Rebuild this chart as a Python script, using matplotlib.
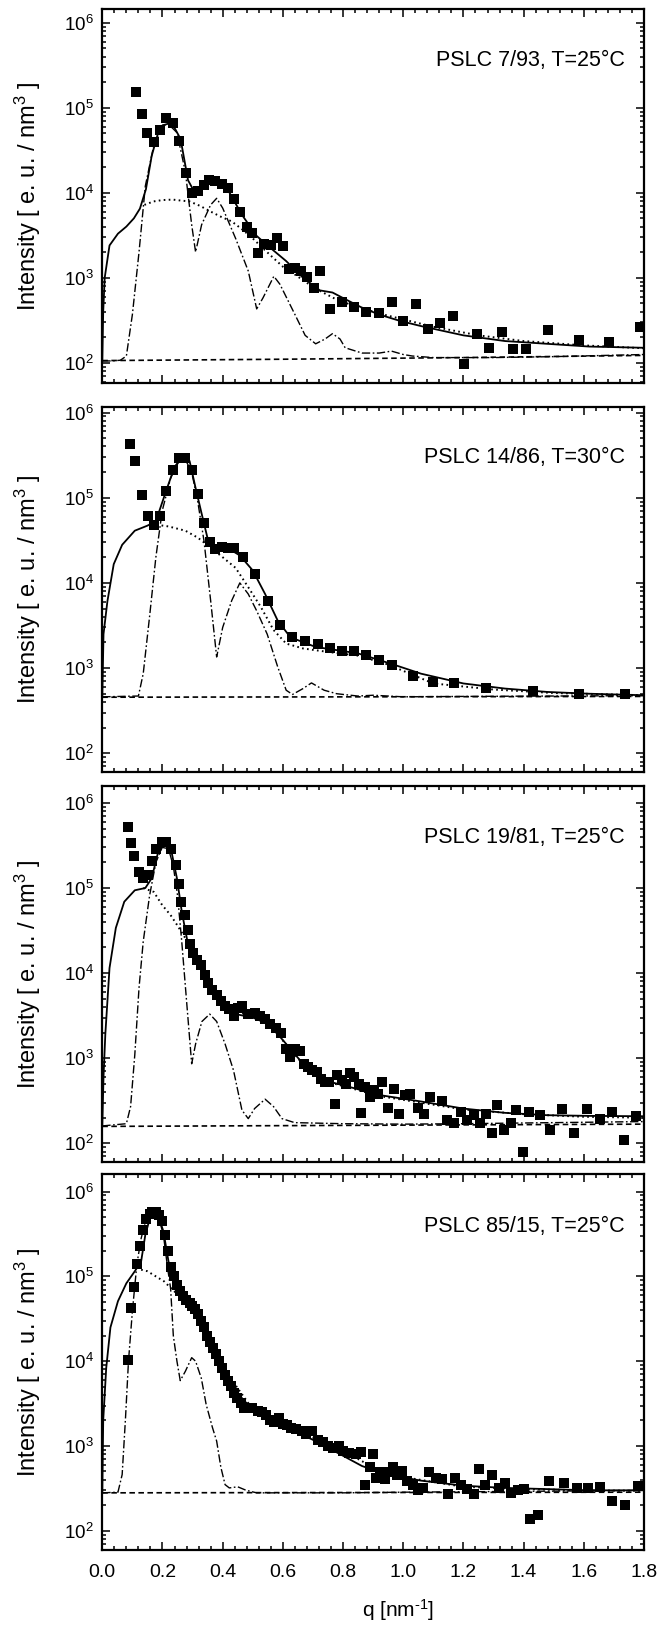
import numpy as np
import matplotlib
matplotlib.use('Agg')
import matplotlib.pyplot as plt
from matplotlib.ticker import MultipleLocator, LogLocator, NullFormatter, LogFormatterSciNotation

## donnees (q en nm^-1, intensite en e.u./nm^3)

labels = ['PSLC 7/93, T=25°C', 'PSLC 14/86, T=30°C', 'PSLC 19/81, T=25°C', 'PSLC 85/15, T=25°C']

# panneau 1
q1 = [0.112,0.133,0.150,0.173,0.192,0.213,0.234,0.256,0.277,0.297,0.317,0.337,0.355,0.376,0.397,0.417,0.439,0.459,0.481,0.499,
      0.519,0.538,0.559,0.580,0.600,0.620,0.641,0.660,0.681,0.702,0.723,0.758,0.796,0.838,0.877,0.919,0.961,0.999,1.041,1.083,
      1.122,1.164,1.203,1.245,1.285,1.327,1.366,1.408,1.482,1.583,1.684,1.786]
I1 = [1.55e5,8.5e4,5.0e4,4.0e4,5.5e4,7.5e4,6.7e4,4.1e4,1.7e4,1.0e4,1.05e4,1.23e4,1.4e4,1.37e4,1.27e4,1.14e4,8.4e3,6.0e3,3.9e3,3.4e3,
      1.95e3,2.5e3,2.45e3,2.97e3,2.34e3,1.28e3,1.3e3,1.2e3,1.02e3,7.6e2,1.2e3,4.3e2,5.2e2,4.5e2,4.0e2,3.8e2,5.2e2,3.1e2,4.9e2,2.5e2,
      2.97e2,3.5e2,97,2.2e2,1.5e2,2.28e2,1.46e2,1.46e2,2.4e2,1.87e2,1.74e2,2.6e2]
qs1 = [0, 0.003, 0.008, 0.024, 0.052, 0.08, 0.105, 0.125, 0.145, 0.164, 0.185, 0.2, 0.22, 0.24, 0.26, 0.285, 0.303, 0.325, 0.345,
       0.38, 0.42, 0.464, 0.513, 0.555, 0.611, 0.667, 0.723, 0.765, 0.807, 0.86, 0.919, 0.99, 1.059, 1.2, 1.338, 1.478, 1.618, 1.8]
Is1 = [105, 400, 1.0e3, 2.4e3, 3.3e3, 4.0e3, 5.0e3, 6.5e3, 1.1e4, 2.7e4, 5.0e4, 6.2e4, 6.5e4, 5.8e4, 4.3e4, 1.4e4, 1.07e4, 1.1e4,
       1.23e4, 1.34e4, 1.04e4, 5.5e3, 3.1e3, 2.3e3, 1.57e3, 1.0e3, 7.1e2, 6.7e2, 5.6e2, 4.5e2, 3.7e2, 3.1e2, 2.7e2, 2.1e2, 1.8e2,
       1.67e2, 1.55e2, 1.5e2]
qd1 = [0.14, 0.17, 0.2, 0.234, 0.26, 0.29, 0.325, 0.36, 0.395, 0.43, 0.465, 0.5, 0.535, 0.569, 0.6, 0.64, 0.68, 0.723, 0.78, 0.85,
       0.92, 0.99, 1.1, 1.25, 1.4, 1.6, 1.8]
Id1 = [7.2e3, 7.9e3, 8.2e3, 8.3e3, 8.1e3, 7.9e3, 7.0e3, 6.0e3, 5.2e3, 4.6e3, 3.7e3, 2.9e3, 2.2e3, 1.7e3, 1.35e3, 1.09e3, 8.7e2,
       7.0e2, 5.5e2, 4.5e2, 3.8e2, 3.3e2, 2.65e2, 2.1e2, 1.8e2, 1.6e2, 1.48e2]
qc1 = [0, 0.03, 0.06, 0.08, 0.1, 0.122, 0.143, 0.171, 0.2, 0.22, 0.248, 0.276, 0.297, 0.31, 0.33, 0.36, 0.38, 0.4, 0.443, 0.485,
       0.513, 0.534, 0.57, 0.59, 0.64, 0.674, 0.709, 0.74, 0.765, 0.79, 0.807, 0.863, 0.92, 0.961, 1.0, 1.03, 1.1, 1.3, 1.5, 1.8]
Ic1 = [105, 105, 107, 120, 370, 2.0e3, 1.2e4, 3.6e4, 6.2e4, 6.4e4, 5.1e4, 1.76e4, 4.2e3, 2.0e3, 4.2e3, 7.2e3, 8.6e3, 6.6e3, 2.9e3,
       1.2e3, 4.3e2, 5.8e2, 1.04e3, 8.4e2, 3.7e2, 2.1e2, 1.67e2, 1.9e2, 2.2e2, 1.9e2, 1.5e2, 1.3e2, 1.3e2, 1.37e2, 1.25e2, 1.2e2,
       1.15e2, 1.15e2, 1.18e2, 1.25e2]
qb1 = [0, 0.6, 1.2, 1.8]
Ib1 = [106, 110, 115, 122]

# panneau 2
q2 = [0.091,0.110,0.133,0.152,0.172,0.192,0.211,0.234,0.255,0.276,0.297,0.317,0.338,0.357,0.376,0.399,0.418,0.438,0.469,0.509,
      0.550,0.590,0.632,0.674,0.716,0.758,0.796,0.838,0.877,0.919,0.961,1.034,1.100,1.170,1.276,1.430,1.583,1.737]
I2 = [4.3e5,2.7e5,1.07e5,6.1e4,4.8e4,6.1e4,1.2e5,2.1e5,2.9e5,2.9e5,2.1e5,1.1e5,5.1e4,3.0e4,2.5e4,2.65e4,2.6e4,2.55e4,2.0e4,1.26e4,
      6.2e3,3.2e3,2.3e3,2.1e3,1.93e3,1.74e3,1.6e3,1.58e3,1.41e3,1.25e3,1.09e3,8.0e2,6.9e2,6.6e2,5.9e2,5.4e2,5.0e2,4.9e2]
qs2 = [0, 0.004, 0.017, 0.038, 0.066, 0.108, 0.15, 0.178, 0.212, 0.24, 0.269, 0.29, 0.31, 0.331, 0.352, 0.387, 0.422, 0.457, 0.5,
       0.541, 0.583, 0.625, 0.709, 0.849, 0.961, 1.059, 1.2, 1.338, 1.478, 1.618, 1.8]
Is2 = [460, 2.5e3, 6.1e3, 1.66e4, 2.8e4, 4.1e4, 4.7e4, 5.3e4, 1.2e5, 2.3e5, 3.1e5, 2.7e5, 1.3e5, 6.3e4, 3.1e4, 2.6e4, 2.5e4, 2.1e4,
       1.4e4, 7.4e3, 3.6e3, 2.3e3, 1.77e3, 1.49e3, 1.12e3, 8.6e2, 6.6e2, 5.75e2, 5.25e2, 5.0e2, 4.8e2]
qd2 = [0.164, 0.22, 0.276, 0.317, 0.36, 0.4, 0.443, 0.485, 0.527, 0.569, 0.611, 0.667, 0.72, 0.78, 0.85, 0.95, 1.1, 1.3, 1.5, 1.8]
Id2 = [4.9e4, 4.6e4, 4.1e4, 3.4e4, 2.6e4, 2.0e4, 1.5e4, 8.9e3, 5.2e3, 2.8e3, 1.94e3, 1.7e3, 1.6e3, 1.5e3, 1.4e3, 1.1e3, 6.6e2,
       5.6e2, 5.1e2, 4.8e2]
qc2 = [0, 0.12, 0.136, 0.157, 0.178, 0.199, 0.227, 0.255, 0.276, 0.297, 0.317, 0.338, 0.36, 0.38, 0.4, 0.43, 0.457, 0.485, 0.513,
       0.548, 0.583, 0.611, 0.632, 0.667, 0.695, 0.737, 0.779, 0.849, 0.9, 1.0, 1.2, 1.5, 1.8]
Ic2 = [460, 470, 860, 4.0e3, 2.0e4, 7.0e4, 1.7e5, 2.7e5, 2.8e5, 2.0e5, 9.1e4, 3.1e4, 6.2e3, 1.35e3, 3.0e3, 6.2e3, 1.0e4, 7.4e3,
       4.7e3, 2.5e3, 1.03e3, 5.5e2, 4.9e2, 5.75e2, 6.7e2, 5.5e2, 5.0e2, 4.7e2, 4.8e2, 4.6e2, 4.65e2, 4.7e2, 4.75e2]
qb2 = [0, 1.8]
Ib2 = [455, 465]

# panneau 3
q3 = [0.087,0.097,0.105,0.122,0.136,0.152,0.166,0.180,0.199,0.213,0.227,0.245,0.255,0.262,0.276,0.285,0.292,0.303,0.315,0.329,
      0.341,0.352,0.366,0.380,0.394,0.408,0.422,0.436,0.450,0.464,0.485,0.506,0.524,0.541,0.558,0.576,0.594,0.611,0.625,0.639,
      0.656,0.670,0.684,0.698,0.712,0.726,0.740,0.754,0.772,0.779,0.796,0.810,0.824,0.838,0.852,0.860,0.874,0.888,0.902,0.916,
      0.930,0.950,0.968,0.986,1.006,1.024,1.049,1.070,1.090,1.129,1.145,1.168,1.192,1.213,1.234,1.255,1.276,1.294,1.313,1.334,
      1.357,1.376,1.397,1.418,1.455,1.488,1.527,1.569,1.611,1.653,1.695,1.733,1.775]
I3 = [5.28e5,3.38e5,2.36e5,1.54e5,1.31e5,1.43e5,2.1e5,2.88e5,3.5e5,3.45e5,2.88e5,1.84e5,1.12e5,6.9e4,4.8e4,3.2e4,2.19e4,1.72e4,1.44e4,1.23e4,
      9.6e3,7.7e3,6.4e3,5.6e3,4.7e3,4.1e3,3.75e3,3.1e3,3.9e3,4.1e3,3.3e3,3.4e3,3.1e3,2.87e3,2.5e3,2.29e3,2.0e3,1.28e3,1.02e3,1.28e3,
      1.23e3,8.6e2,7.8e2,7.2e2,6.9e2,5.7e2,5.2e2,5.2e2,2.9e2,6.4e2,5.6e2,5.0e2,6.7e2,6.0e2,5.0e2,2.3e2,4.6e2,3.5e2,4.2e2,3.8e2,
      5.2e2,2.6e2,4.3e2,2.24e2,3.7e2,3.8e2,2.6e2,2.24e2,3.5e2,3.1e2,1.87e2,1.71e2,2.34e2,1.87e2,2.14e2,1.71e2,2.24e2,1.31e2,2.8e2,1.43e2,
      1.71e2,2.45e2,80,2.34e2,2.14e2,1.43e2,2.56e2,1.31e2,2.56e2,1.95e2,2.34e2,1.09e2,2.08e2]
qs3 = [0, 0.004, 0.01, 0.024, 0.045, 0.073, 0.108, 0.143, 0.164, 0.185, 0.206, 0.227, 0.248, 0.264, 0.283, 0.303, 0.331, 0.36, 0.4,
       0.443, 0.5, 0.555, 0.611, 0.667, 0.737, 0.821, 0.919, 1.059, 1.2, 1.338, 1.478, 1.618, 1.8]
Is3 = [160, 600, 1.9e3, 1.15e4, 3.4e4, 6.9e4, 9.4e4, 1.0e5, 1.3e5, 2.6e5, 3.4e5, 3.0e5, 1.3e5, 5.3e4, 2.35e4, 1.5e4, 1.05e4, 6.7e3,
       3.9e3, 3.3e3, 3.0e3, 2.5e3, 1.47e3, 8.6e2, 5.5e2, 4.6e2, 3.7e2, 3.1e2, 2.56e2, 2.28e2, 2.14e2, 2.1e2, 2.08e2]
qd3 = [0.136, 0.171, 0.199, 0.227, 0.248, 0.283, 0.317, 0.36, 0.4, 0.45, 0.5, 0.555, 0.611, 0.667, 0.737, 0.821, 0.919, 1.059, 1.2,
       1.4, 1.6, 1.8]
Id3 = [1.0e5, 9.0e4, 6.3e4, 4.8e4, 3.7e4, 2.35e4, 1.4e4, 6.7e3, 4.3e3, 3.5e3, 3.1e3, 2.5e3, 1.45e3, 8.5e2, 5.4e2, 4.5e2, 3.6e2,
       3.0e2, 2.5e2, 2.2e2, 2.05e2, 2.0e2]
qc3 = [0, 0.08, 0.094, 0.108, 0.122, 0.136, 0.157, 0.178, 0.199, 0.22, 0.236, 0.25, 0.264, 0.28, 0.297, 0.31, 0.331, 0.357, 0.38,
       0.408, 0.436, 0.464, 0.485, 0.506, 0.541, 0.569, 0.597, 0.639, 0.8, 1.0, 1.2, 1.5, 1.8]
Ic3 = [160, 170, 270, 1.1e3, 6.7e3, 2.35e4, 8.1e4, 2.0e5, 3.0e5, 2.9e5, 1.8e5, 8.2e4, 2.35e4, 4.7e3, 8.6e2, 1.47e3, 2.7e3, 3.3e3,
       2.7e3, 1.47e3, 7.2e2, 2.45e2, 1.95e2, 2.56e2, 3.3e2, 2.7e2, 1.95e2, 1.75e2, 1.7e2, 1.68e2, 1.7e2, 1.75e2, 1.8e2]
qb3 = [0, 1.8]
Ib3 = [158, 168]

# panneau 4
q4 = [0.084,0.094,0.105,0.115,0.124,0.136,0.145,0.157,0.166,0.178,0.187,0.197,0.208,0.218,0.228,0.238,0.248,0.259,0.269,0.278,
      0.290,0.299,0.309,0.319,0.329,0.338,0.348,0.358,0.368,0.378,0.387,0.397,0.407,0.417,0.427,0.438,0.449,0.460,0.471,0.485,
      0.499,0.516,0.530,0.544,0.558,0.572,0.586,0.600,0.614,0.628,0.645,0.662,0.678,0.698,0.717,0.734,0.751,0.768,0.785,0.801,
      0.821,0.842,0.860,0.874,0.888,0.899,0.910,0.924,0.938,0.952,0.966,0.980,0.997,1.014,1.031,1.048,1.066,1.087,1.108,1.129,
      1.150,1.171,1.192,1.213,1.234,1.252,1.271,1.294,1.317,1.338,1.359,1.380,1.401,1.422,1.448,1.485,1.534,1.576,1.615,1.653,
      1.695,1.737,1.779]
I4 = [1.02e4,4.2e4,7.4e4,1.4e5,2.3e5,3.5e5,4.7e5,5.4e5,5.8e5,5.8e5,5.3e5,4.5e5,3.1e5,1.97e5,1.3e5,1.0e5,8.0e4,6.7e4,5.8e4,5.3e4,
      4.9e4,4.5e4,4.1e4,3.6e4,3.0e4,2.5e4,2.0e4,1.7e4,1.43e4,1.2e4,1.0e4,8.4e3,6.9e3,5.8e3,5.1e3,4.2e3,3.7e3,3.2e3,2.8e3,2.8e3,
      2.8e3,2.6e3,2.5e3,2.35e3,2.05e3,1.9e3,2.15e3,1.8e3,1.77e3,1.64e3,1.6e3,1.5e3,1.37e3,1.5e3,1.17e3,1.1e3,1.0e3,9.4e2,1.0e3,8.7e2,
      8.3e2,8.0e2,8.6e2,3.5e2,5.6e2,8.1e2,4.2e2,4.9e2,4.1e2,4.9e2,5.6e2,4.6e2,5.1e2,3.9e2,3.5e2,3.0e2,3.2e2,4.9e2,4.2e2,4.1e2,
      2.75e2,4.2e2,3.5e2,3.1e2,2.7e2,5.3e2,3.5e2,4.6e2,3.2e2,3.7e2,2.8e2,3.0e2,3.1e2,1.37e2,1.54e2,3.9e2,3.7e2,3.2e2,3.2e2,3.3e2,
      2.25e2,2.0e2,3.4e2]
qs4 = [0, 0.003, 0.013, 0.027, 0.052, 0.08, 0.108, 0.129, 0.143, 0.157, 0.171, 0.185, 0.203, 0.22, 0.234, 0.255, 0.29, 0.317, 0.345,
       0.387, 0.43, 0.471, 0.527, 0.583, 0.639, 0.709, 0.779, 0.863, 0.947, 1.059, 1.2, 1.338, 1.478, 1.618, 1.8]
Is4 = [280, 2.0e3, 8.3e3, 2.5e4, 5.1e4, 8.3e4, 1.15e5, 1.5e5, 3.1e5, 4.7e5, 5.6e5, 5.3e5, 3.4e5, 1.5e5, 9.6e4, 6.9e4, 5.1e4, 3.9e4,
       2.2e4, 1.04e4, 5.3e3, 3.4e3, 2.35e3, 1.87e3, 1.5e3, 1.14e3, 8.4e2, 5.8e2, 4.6e2, 3.9e2, 3.4e2, 3.2e2, 3.1e2, 3.0e2, 3.0e2]
qd4 = [0.129, 0.15, 0.178, 0.206, 0.234, 0.26, 0.3, 0.35, 0.4, 0.5, 0.6, 0.7, 0.8, 0.9, 1.0, 1.2, 1.4, 1.6, 1.8]
Id4 = [1.2e5, 1.15e5, 1.0e5, 8.7e4, 6.9e4, 5.8e4, 4.5e4, 2.0e4, 8.5e3, 2.7e3, 1.72e3, 1.25e3, 8.8e2, 5.6e2, 4.3e2, 3.3e2, 3.1e2,
       3.0e2, 2.95e2]
qc4 = [0, 0.052, 0.066, 0.077, 0.087, 0.1, 0.115, 0.129, 0.143, 0.164, 0.185, 0.203, 0.217, 0.227, 0.236, 0.248, 0.259, 0.276, 0.297,
       0.31, 0.329, 0.345, 0.366, 0.38, 0.394, 0.408, 0.422, 0.45, 0.478, 0.513, 0.8, 1.0, 1.3, 1.6, 1.8]
Ic4 = [280, 285, 460, 2.1e3, 1.0e4, 3.9e4, 1.4e5, 2.8e5, 4.4e5, 5.6e5, 5.3e5, 3.1e5, 1.26e5, 7.2e4, 2.0e4, 1.0e4, 5.9e3, 7.6e3,
       1.1e4, 1.0e4, 6.3e3, 3.1e3, 1.65e3, 1.14e3, 5.6e2, 3.5e2, 3.2e2, 3.3e2, 3.0e2, 2.8e2, 2.8e2, 2.85e2, 2.9e2, 2.95e2, 3.0e2]
qb4 = [0, 1.8]
Ib4 = [280, 285]

ylims = [(57.3, 1.45e6), (60.3, 1.17e6), (60.8, 1.58e6), (59.3, 1.6e6)]

panels = [
    (q1, I1, qs1, Is1, qd1, Id1, qc1, Ic1, qb1, Ib1),
    (q2, I2, qs2, Is2, qd2, Id2, qc2, Ic2, qb2, Ib2),
    (q3, I3, qs3, Is3, qd3, Id3, qc3, Ic3, qb3, Ib3),
    (q4, I4, qs4, Is4, qd4, Id4, qc4, Ic4, qb4, Ib4),
]

## mise en forme
plt.rcParams['font.family'] = ['Liberation Sans', 'DejaVu Sans']
plt.rcParams['mathtext.fontset'] = 'custom'
plt.rcParams['mathtext.rm'] = 'Liberation Sans'
plt.rcParams['mathtext.it'] = 'Liberation Sans:italic'
plt.rcParams['mathtext.bf'] = 'Liberation Sans:bold'
plt.rcParams['lines.scale_dashes'] = False

W, H = 660, 1626
fig = plt.figure(figsize=(W / 100, H / 100), dpi=100)

x_left, x_right = 102.3, 644
boxes = [(9, 383.3), (406.7, 772), (786, 1161.7), (1174.3, 1550)]

for k, (top, bot) in enumerate(boxes):
    qp, Ip, qs, Is, qd, Id, qc, Ic, qb, Ib = panels[k]
    ax = fig.add_axes([x_left / W, 1 - bot / H, (x_right - x_left) / W, (bot - top) / H])

    ax.plot(qb, Ib, color='black', lw=1.2, dashes=(4, 2.5), zorder=2)
    ax.plot(qc, Ic, color='black', lw=1.0, dashes=(6, 1.8, 1.2, 1.8), zorder=2)
    ax.plot(qd, Id, color='black', lw=1.4, dashes=(1.2, 2.4), zorder=2)
    ax.plot(qs, Is, color='black', lw=1.3, zorder=2)
    ax.plot(qp, Ip, 's', color='black', markersize=7, markeredgewidth=0, zorder=3)

    ax.set_yscale('log')
    ax.set_xlim(0, 1.8)
    ax.set_ylim(*ylims[k])

    ax.xaxis.set_major_locator(MultipleLocator(0.2))
    ax.xaxis.set_minor_locator(MultipleLocator(0.04))
    ax.yaxis.set_major_locator(LogLocator(base=10, numticks=12))
    ax.yaxis.set_minor_locator(LogLocator(base=10, subs=np.arange(2, 10), numticks=12))
    ax.yaxis.set_major_formatter(LogFormatterSciNotation())
    ax.yaxis.set_minor_formatter(NullFormatter())

    ax.tick_params(which='both', direction='in', top=True, right=True, width=1.1)
    ax.tick_params(which='major', length=5.5)
    ax.tick_params(which='minor', length=2.9)
    ax.tick_params(axis='y', which='major', labelsize=13.5, pad=6)
    ax.tick_params(axis='x', which='major', labelsize=14, pad=10)
    if k < 3:
        ax.tick_params(axis='x', labelbottom=False)
    else:
        ax.xaxis.set_major_formatter(matplotlib.ticker.FormatStrFormatter('%.1f'))

    for sp in ax.spines.values():
        sp.set_linewidth(1.6)

    ax.text(0.965, 0.862, labels[k], transform=ax.transAxes, ha='right', va='center', fontsize=15.5)

    yc = 1 - (top + bot) / 2 / H
    fig.text(28 / W, yc, r'Intensity [ e. u. / nm$^{3}$ ]', rotation=90, ha='center', va='center', fontsize=17)

fig.text(398 / W, 1 - 1610 / H, r'q [nm$^{\text{-}1}$]', ha='center', va='center', fontsize=15)

fig.savefig('out.png', dpi=100)
